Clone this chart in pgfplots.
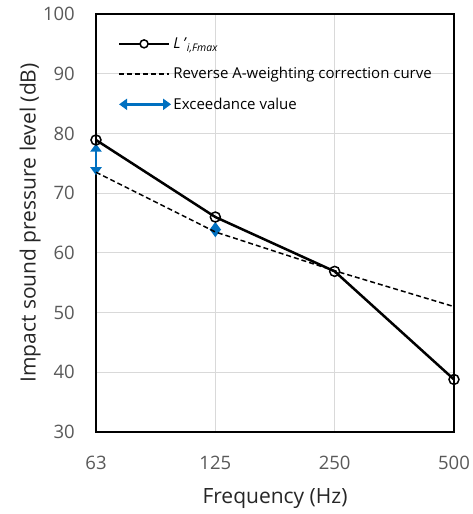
\documentclass[border=0pt]{standalone}
\usepackage{fontspec}
\setmainfont{Open Sans}
\usepackage{pgfplots}
\pgfplotsset{compat=1.18}
\usetikzlibrary{arrows.meta}
\definecolor{exblue}{RGB}{0,112,192}
\definecolor{tickgray}{RGB}{89,89,89}
\definecolor{gridgray}{RGB}{217,217,217}
\tikzset{
  exarrow/.style={exblue, line width=2.8pt,
    {Triangle[length=8pt,width=11pt]}-{Triangle[length=8pt,width=11pt]}},
}
\begin{document}
\begin{tikzpicture}
\useasboundingbox (-96pt,-82pt) rectangle (377pt,432pt);
\begin{axis}[
  at={(0pt,0pt)}, anchor=south west,
  width=358pt, height=418pt, scale only axis,
  xmin=0, xmax=3, ymin=30, ymax=100,
  xtick={0,1,2,3}, xticklabels={63,125,250,500},
  ytick={30,40,...,100},
  grid=major, major grid style={gridgray, line width=0.9pt},
  axis line style={black, line width=1.8pt},
  tick style={draw=none},
  ticklabel style={font=\fontsize{18.5}{22}\selectfont, text=tickgray, inner sep=0pt},
  yticklabel style={anchor=east, xshift=-21pt},
  xticklabel style={anchor=center, yshift=-31pt},
  /pgf/number format/assume math mode=true,
  xlabel={Frequency (Hz)},
  ylabel={Impact sound pressure level (dB)},
  label style={font=\fontsize{21}{25}\selectfont, text=black!85},
  xlabel style={at={(axis description cs:0.5,-0.158)}, anchor=center},
  ylabel style={at={(axis description cs:-0.184,0.5)}, anchor=center},
  clip=false,
  legend cell align=left,
  legend style={draw=none, fill=none, inner sep=0pt,
    at={(axis description cs:0.06,0.946)}, anchor=north west,
    font=\fontsize{15}{18}\selectfont, row sep=15.5pt,
    nodes={inner sep=1pt}},
]
% exceedance arrows
\addplot[exarrow, forget plot] coordinates {(0,73.0) (0,78.3)};
\addplot[exarrow, forget plot] coordinates {(1,62.6) (1,65.2)};

\addplot[black, line width=2.5pt, mark=o, mark size=5pt,
  mark options={fill=white, line width=1.5pt},
  legend image code/.code={
    \draw[black, line width=2.5pt] (0pt,0pt) -- (50pt,0pt);
    \draw[black, line width=1.5pt, fill=white] (25pt,0pt) circle (4pt);}]
  coordinates {(0,78.9) (1,66) (2,56.9) (3,38.8)};
\addlegendentry{\textit{L\,'}\textsubscript{\textit{i,Fmax}}}

\addplot[black, line width=1.5pt, dash pattern=on 5pt off 3pt,
  legend image code/.code={
    \draw[black, line width=1.5pt, dash pattern=on 5pt off 3pt] (0pt,0pt) -- (50pt,0pt);}]
  coordinates {(0,73.5) (1,63.5) (2,57) (3,51)};
\addlegendentry{Reverse A-weighting correction curve}

\addlegendimage{legend image code/.code={
  \draw[exarrow] (0pt,0pt) -- (52pt,0pt);}}
\addlegendentry{Exceedance value}
\end{axis}
\end{tikzpicture}
\end{document}
